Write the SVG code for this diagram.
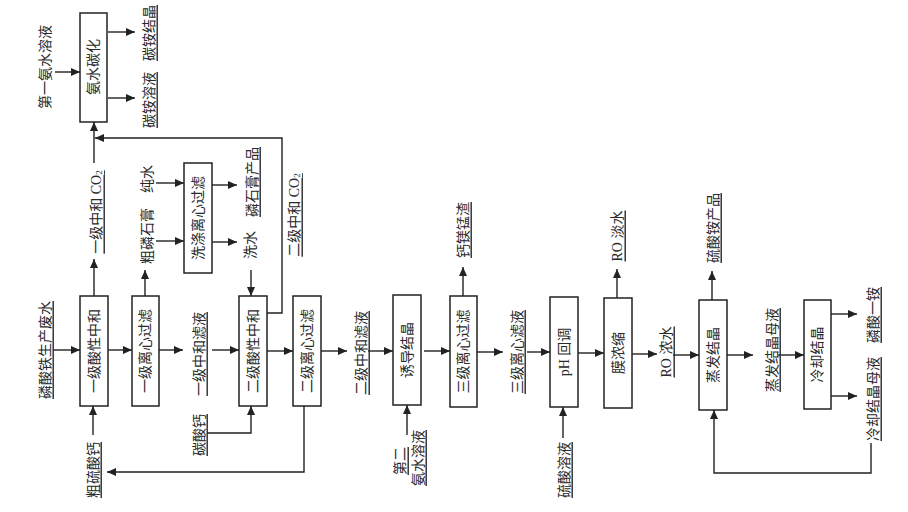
<svg xmlns="http://www.w3.org/2000/svg" width="908" height="512" viewBox="0 0 908 512">
<style>
.box{fill:#fff;stroke:#222;stroke-width:1.5}
.c{fill:none;stroke:#222;stroke-width:1.4}
.t{font-family:"Liberation Serif","Noto Sans CJK SC",serif;font-size:14px;fill:#2a2a2a;text-anchor:middle;dominant-baseline:central}
.u{text-decoration:underline;text-decoration-color:#999}
</style>
<defs>
<marker id="a" markerWidth="10" markerHeight="8" refX="9" refY="4" orient="auto" markerUnits="userSpaceOnUse"><path d="M0,0 L9,4 L0,8 z" fill="#222"/></marker>
</defs>
<rect width="908" height="512" fill="#fff"/>
<g id="connectors" marker-end="url(#a)">
<path class="c" d="M53,350 H80"/>
<path class="c" d="M108,350 H132"/>
<path class="c" d="M159,350 H183"/>
<path class="c" d="M212,350 H239"/>
<path class="c" d="M267,351 H293"/>
<path class="c" d="M321,351 H347"/>
<path class="c" d="M368,351 H393"/>
<path class="c" d="M424,351 H450"/>
<path class="c" d="M477,352 H503"/>
<path class="c" d="M527,352 H550"/>
<path class="c" d="M578,353 H604"/>
<path class="c" d="M632,354 H657"/>
<path class="c" d="M673,355 H699"/>
<path class="c" d="M727,355 H753"/>
<path class="c" d="M778,355 H804"/>
<path class="c" d="M831,314 H857"/>
<path class="c" d="M831,396 H857"/>
<path class="c" d="M871,443 V473 H714 V410"/>
<path class="c" d="M712,300 V271"/>
<path class="c" d="M617,298 V269"/>
<path class="c" d="M563,438 V407"/>
<path class="c" d="M463,296 V267"/>
<path class="c" d="M407,435 V405"/>
<path class="c" d="M304,406 V472 H107"/>
<path class="c" d="M93,435 V406"/>
<path class="c" d="M207,433 H251 V406"/>
<path class="c" d="M251,270 V296"/>
<path class="c" d="M212,185 H237"/>
<path class="c" d="M212,242 H237"/>
<path class="c" d="M156,183 H184"/>
<path class="c" d="M156,241 H184"/>
<path class="c" d="M145,296 V270"/>
<path class="c" d="M94,296 V259"/>
<path class="c" d="M94,163 V122"/>
<path class="c" d="M267,313 H282 V138 H95"/>
<path class="c" d="M55,72 H80"/>
<path class="c" d="M108,32 H135"/>
<path class="c" d="M108,98 H135"/>
</g>
<g id="n-anshuitanhua"><rect class="box" x="80" y="13" width="27" height="109"/><text class="t" transform="translate(93.5,67) rotate(-90)">氨水碳化</text></g>
<g id="n-yiji-suanzhonghe"><rect class="box" x="80" y="296" width="28" height="110"/><text class="t" transform="translate(94,351) rotate(-90)">一级酸性中和</text></g>
<g id="n-yiji-lixin"><rect class="box" x="132" y="296" width="27" height="110"/><text class="t" transform="translate(145.5,351) rotate(-90)">一级离心过滤</text></g>
<g id="n-xidi"><rect class="box" x="184" y="163" width="28" height="110"/><text class="t" transform="translate(198,218) rotate(-90)">洗涤离心过滤</text></g>
<g id="n-erji-suanzhonghe"><rect class="box" x="239" y="296" width="28" height="110"/><text class="t" transform="translate(253,351) rotate(-90)">二级酸性中和</text></g>
<g id="n-erji-lixin"><rect class="box" x="293" y="296" width="28" height="110"/><text class="t" transform="translate(307,351) rotate(-90)">二级离心过滤</text></g>
<g id="n-youdao"><rect class="box" x="393" y="295" width="28" height="110"/><text class="t" transform="translate(407,350) rotate(-90)">诱导结晶</text></g>
<g id="n-sanji-lixin"><rect class="box" x="450" y="296" width="27" height="111"/><text class="t" transform="translate(463.5,351.5) rotate(-90)">三级离心过滤</text></g>
<g id="n-ph"><rect class="box" x="550" y="297" width="28" height="110"/><text class="t" transform="translate(564,352) rotate(-90)">pH 回调</text></g>
<g id="n-mo"><rect class="box" x="604" y="298" width="28" height="110"/><text class="t" transform="translate(618,353) rotate(-90)">膜浓缩</text></g>
<g id="n-zhengfa"><rect class="box" x="699" y="300" width="28" height="110"/><text class="t" transform="translate(713,355) rotate(-90)">蒸发结晶</text></g>
<g id="n-lengque"><rect class="box" x="804" y="300" width="27" height="109"/><text class="t" transform="translate(817.5,354.5) rotate(-90)">冷却结晶</text></g>
<g id="labels">
<text class="t u" transform="translate(45,350) rotate(-90)">磷酸铁生产废水</text>
<text class="t u" transform="translate(199,354) rotate(-90)">一级中和滤液</text>
<text class="t u" transform="translate(361,353) rotate(-90)">二级中和滤液</text>
<text class="t u" transform="translate(517,352) rotate(-90)">三级离心滤液</text>
<text class="t u" transform="translate(666,352) rotate(-90)">RO 浓水</text>
<text class="t u" transform="translate(772,350) rotate(-90)">蒸发结晶母液</text>
<text class="t u" transform="translate(873,315) rotate(-90)">磷酸一铵</text>
<text class="t u" transform="translate(873,399) rotate(-90)">冷却结晶母液</text>
<text class="t u" transform="translate(713,228) rotate(-90)">硫酸铵产品</text>
<text class="t u" transform="translate(617,236) rotate(-90)">RO 淡水</text>
<text class="t u" transform="translate(564,470) rotate(-90)">硫酸溶液</text>
<text class="t u" transform="translate(463,230) rotate(-90)">钙镁锰渣</text>
<text class="t u" transform="translate(400,461) rotate(-90)">第二</text>
<text class="t u" transform="translate(418,458) rotate(-90)">氨水溶液</text>
<text class="t u" transform="translate(199,435) rotate(-90)">碳酸钙</text>
<text class="t u" transform="translate(93,470) rotate(-90)">粗硫酸钙</text>
<text class="t" transform="translate(147,236) rotate(-90)">粗磷石膏</text>
<text class="t" transform="translate(147,179) rotate(-90)">纯水</text>
<text class="t u" transform="translate(252,182) rotate(-90)">磷石膏产品</text>
<text class="t" transform="translate(250,245) rotate(-90)">洗水</text>
<text class="t u" transform="translate(96,212) rotate(-90)">一级中和 CO<tspan font-size="9" dy="3">2</tspan></text>
<text class="t u" transform="translate(294,215) rotate(-90)">二级中和 CO<tspan font-size="9" dy="3">2</tspan></text>
<text class="t" transform="translate(45,67) rotate(-90)">第一氨水溶液</text>
<text class="t u" transform="translate(149,33) rotate(-90)">碳铵结晶</text>
<text class="t u" transform="translate(149,100) rotate(-90)">碳铵溶液</text>
</g>
</svg>
